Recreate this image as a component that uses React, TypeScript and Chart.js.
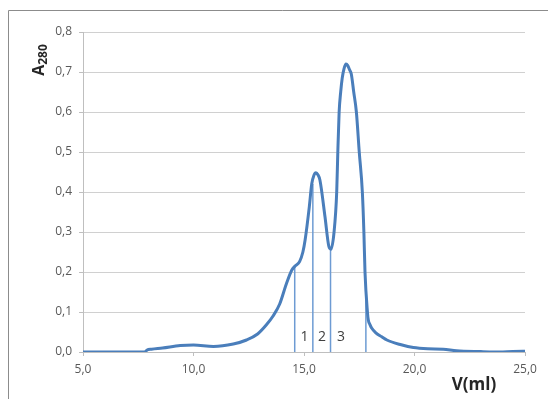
import React, { useEffect, useRef } from "react";
import { Chart, registerables } from "chart.js";

Chart.register(...registerables);

// Elution volume (ml) and absorbance at 280 nm
const volumes = [
  5.0, 7.8, 7.9, 8.1, 8.6, 9.4, 10.0, 10.9, 11.8, 12.4, 12.9, 13.3, 13.6, 13.9,
  14.2, 14.45, 14.6, 14.8, 14.95, 15.05, 15.24, 15.35, 15.45, 15.54, 15.63,
  15.72, 15.95, 16.12, 16.22, 16.36, 16.48, 16.53, 16.59, 16.66, 16.73, 16.81,
  16.9, 16.98, 17.06, 17.14, 17.25, 17.37, 17.5, 17.64, 17.71, 17.76, 17.87,
  17.91, 17.99, 18.06, 18.25, 18.52, 18.75, 19.4, 19.95, 20.6, 21.3, 21.9,
  23.0, 24.0, 24.9, 25.0,
];
const absorbance = [
  0, 0, 0.005, 0.007, 0.01, 0.016, 0.0175, 0.014, 0.02, 0.03, 0.045, 0.068,
  0.09, 0.12, 0.17, 0.205, 0.215, 0.226, 0.25, 0.28, 0.363, 0.42, 0.442, 0.448,
  0.443, 0.43, 0.338, 0.265, 0.257, 0.3, 0.4, 0.5, 0.6, 0.65, 0.685, 0.708,
  0.72, 0.716, 0.706, 0.695, 0.65, 0.6, 0.5, 0.4, 0.3, 0.2, 0.1, 0.08, 0.068,
  0.06, 0.048, 0.038, 0.03, 0.018, 0.011, 0.008, 0.007, 0.003, 0.001, 0.0,
  0.002, 0.002,
];

// Fraction cut positions (ml) and the absorbance where each cut meets the curve
const cutVolumes = [14.58, 15.4, 16.2, 17.8];
const cutHeights = [0.215, 0.42, 0.257, 0.16];

// Fraction numbers placed between the cuts
const fractionNames = ["1", "2", "3"];
const fractionLabelX = [15.02, 15.81, 16.67];
const fractionLabelY = 0.038;

const xTicks = [5, 10, 15, 20, 25];
const yMax = 0.8;

const fmt = (v: number) => v.toFixed(1).replace(".", ",");

const decorations = {
  id: "decorations",
  afterDraw(chart: any) {
    const { ctx, scales } = chart;
    const xs = scales.x;
    const ys = scales.y;
    ctx.save();

    // frame around the whole figure
    ctx.strokeStyle = "#8c8c8c";
    ctx.lineWidth = 1;
    ctx.beginPath();
    ctx.moveTo(0.5, chart.height);
    ctx.lineTo(0.5, 2.5);
    ctx.lineTo(chart.width, 2.5);
    ctx.stroke();

    // fraction numbers
    ctx.fillStyle = "#404040";
    ctx.font = "14px 'Open Sans', sans-serif";
    ctx.textAlign = "center";
    ctx.textBaseline = "middle";
    fractionNames.forEach((n, i) => {
      ctx.fillText(n, xs.getPixelForValue(fractionLabelX[i]), ys.getPixelForValue(fractionLabelY));
    });

    // x axis title
    ctx.fillStyle = "#262626";
    ctx.font = "bold 17px 'Open Sans', sans-serif";
    ctx.fillText("V(ml)", 466, 377);

    // y axis title: A with subscript 280, rotated
    ctx.translate(30, 52);
    ctx.rotate(-Math.PI / 2);
    ctx.textAlign = "left";
    ctx.textBaseline = "alphabetic";
    ctx.font = "bold 16px 'Open Sans', sans-serif";
    const aw = ctx.measureText("A").width;
    ctx.font = "bold 12px 'Open Sans', sans-serif";
    const sw = ctx.measureText("280").width;
    const start = -(aw + sw) / 2;
    ctx.font = "bold 16px 'Open Sans', sans-serif";
    ctx.fillText("A", start, 6);
    ctx.font = "bold 12px 'Open Sans', sans-serif";
    ctx.fillText("280", start + aw, 9);

    ctx.restore();
  },
};

export default function App() {
  const ref = useRef<HTMLCanvasElement>(null);

  useEffect(() => {
    if (!ref.current) return;
    const cutSets = cutVolumes.map((v, i) => ({
      data: [
        { x: v, y: 0 },
        { x: v, y: cutHeights[i] },
      ],
      borderColor: "#6d9bd3",
      borderWidth: 1.5,
      pointRadius: 0,
      tension: 0,
    }));

    const chart = new Chart(ref.current, {
      type: "line",
      data: {
        datasets: [
          {
            data: volumes.map((v, i) => ({ x: v, y: absorbance[i] })),
            borderColor: "#4a7ebb",
            borderWidth: 3,
            pointRadius: 0,
            cubicInterpolationMode: "monotone",
          },
          ...cutSets,
        ],
      },
      options: {
        responsive: false,
        animation: false,
        layout: { padding: { top: 24, right: 31, left: 0, bottom: 0 } },
        plugins: { legend: { display: false }, tooltip: { enabled: false } },
        scales: {
          x: {
            type: "linear",
            min: 5,
            max: 25,
            afterBuildTicks: (s: any) => {
              s.ticks = xTicks.map((v) => ({ value: v }));
            },
            afterFit: (s: any) => {
              s.height = 47;
            },
            grid: {
              drawOnChartArea: false,
              drawTicks: true,
              tickLength: 4,
              color: "#bfbfbf",
            },
            border: { display: true, color: "#bfbfbf" },
            ticks: {
              color: "#595959",
              font: { family: "'Open Sans', sans-serif", size: 12 },
              padding: 6,
              maxRotation: 0,
              callback: (v: any) => fmt(Number(v)),
            },
          },
          y: {
            min: 0,
            max: yMax,
            afterFit: (s: any) => {
              s.width = 75;
            },
            grid: {
              color: "#d0d0d0",
              tickLength: 4,
              tickColor: "#bfbfbf",
            },
            border: { display: true, color: "#bfbfbf" },
            ticks: {
              stepSize: 0.1,
              color: "#595959",
              font: { family: "'Open Sans', sans-serif", size: 12 },
              padding: 7,
              callback: (v: any) => fmt(Number(v)),
            },
          },
        },
      },
      plugins: [decorations],
    });
    return () => chart.destroy();
  }, []);

  return (
    <div style={{ width: 548, height: 391 }}>
      <canvas ref={ref} width={548} height={391} style={{ display: "block" }} />
    </div>
  );
}
